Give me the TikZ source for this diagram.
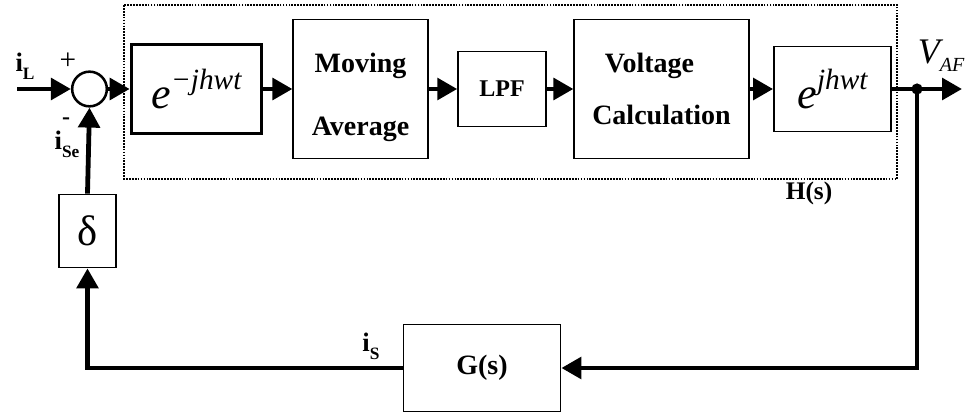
\documentclass[tikz,border=0pt]{standalone}
\usepackage{fontspec}
\setmainfont{Liberation Serif}
\usepackage{tikz}
\usetikzlibrary{arrows.meta,positioning,calc}

\newcommand{\fs}[1]{\fontsize{#1}{#1}\selectfont}
\newcommand{\bsub}[2]{\textbf{#1}\raisebox{-6pt}{\fs{13}\textbf{#2}}}
\newcommand{\expo}[1]{{\mdseries\fs{33}\itshape e}\raisebox{14pt}{\mdseries\fs{22}\itshape #1}}

\begin{document}
\begin{tikzpicture}[x=0.75pt, y=-0.75pt,
    blk/.style={rectangle, draw, line width=1.1pt, inner sep=0pt, font=\fs{21}\bfseries, align=center},
    sumnode/.style={circle, draw, line width=1.9pt, minimum size=26pt, inner sep=0pt},
    sig/.style={line width=3.6pt, -{Triangle[length=15pt,width=16pt]}},
    lbl/.style={inner sep=0pt, font=\fs{20}\bfseries}
]
    \useasboundingbox (0,0) rectangle (969,413);

    % H(s) frame
    \draw[line width=1.2pt, dash pattern=on 1.3pt off 0.9pt] (124,5) rectangle (897,179);
    \node[lbl, font=\fs{19}\bfseries] (hs) at (809,193) {H(s)};

    % forward path
    \node[sumnode] (sum) at (89.5,89) {};
    \node[blk, line width=2.2pt, minimum width=98pt, minimum height=67pt] (eneg) at (196.5,89) {\expo{−jhwt}};
    \node[blk, minimum width=101pt, minimum height=104pt] (mavg) at (360.5,89) {\raisebox{-12pt}[0pt][0pt]{\begin{tabular}{@{}c@{}}Moving\\[26pt]Average\end{tabular}}};
    \node[blk, font=\fs{18}\bfseries, minimum width=66pt, minimum height=56pt] (lpf) at (502,89) {LPF};
    \node[blk, minimum width=131pt, minimum height=104pt] (vcalc) at (661.5,89) {Voltage\hspace*{18pt}\\[18pt]Calculation};
    \node[blk, minimum width=88pt, minimum height=64pt] (epos) at (832.5,89) {\expo{jhwt}};

    % feedback path
    \node[blk, font=\fs{32}, minimum width=43pt, minimum height=55pt] (delta) at (87.5,231) {δ};
    \node[blk, minimum width=118pt, minimum height=65pt] (gs) at (482,368) {G(s)};

    \coordinate (iLin) at (17,89);
    \coordinate (junc) at (917,89);
    \coordinate (vout) at (962,89);
    \coordinate (corner) at (917,368);

    % connectors
    \draw[sig] (iLin) -- (sum.west);
    \draw[sig] (sum.east) -- (eneg.west);
    \draw[sig] (eneg.east) -- (mavg.west);
    \draw[sig] (mavg.east) -- (lpf.west);
    \draw[sig] (lpf.east) -- (vcalc.west);
    \draw[sig] (vcalc.east) -- (epos.west);
    \draw[sig] (epos.east) -- (vout);
    \fill (junc) circle (4.2pt);
    \draw[sig] (junc) -- (corner) -- (gs.east);
    \draw[sig] (gs.west) -| (delta.south);
    \draw[sig] (delta.north) -- (sum.south);

    % labels
    \node[lbl] (iL) at (25,66) {\bsub{i}{L}};
    \node[inner sep=0pt, font=\fs{22}] (plus) at (68,61) {+};
    \node[inner sep=0pt, font=\fs{18}\bfseries] (minus) at (66,121) {-};
    \node[lbl] (iSe) at (67,144) {\bsub{i}{Se}};
    \node[lbl] (iS) at (371,346) {\bsub{i}{S}};
    \node[inner sep=0pt] (vaf) at (941,56) {{\fs{27}\itshape V}\raisebox{-6pt}{\fs{15}\itshape AF}};
\end{tikzpicture}
\end{document}
